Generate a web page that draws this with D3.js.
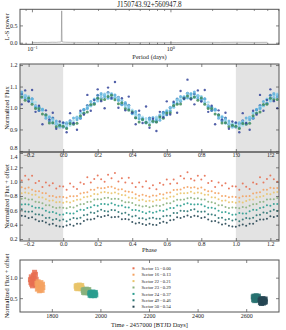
<!DOCTYPE html>
<html><head><meta charset="utf-8">
<script src="https://cdn.jsdelivr.net/npm/d3@7"></script>
<style>html,body{margin:0;padding:0;background:#fff}svg{display:block}text{font-family:"Liberation Serif","Times New Roman",serif;fill:#222}</style>
</head><body><svg id="c" width="286" height="330"></svg>
<script>
const title = "J150743.92+560947.8";
// Lomb-Scargle periodogram
const lsPeriods = [0.1,0.11,0.12,0.13,0.14,0.15,0.155,0.16,0.163,0.164,0.165,0.168,0.175,0.19,0.21,0.24,0.28,0.33,0.4,0.5,0.6,0.75,0.9,1.1,1.4,1.8,2.3,3.0,4.0,5.0];
const lsPower = [0.01,0.008,0.012,0.009,0.015,0.012,0.018,0.02,0.03,0.92,0.03,0.02,0.015,0.012,0.01,0.008,0.011,0.009,0.007,0.01,0.008,0.012,0.009,0.007,0.011,0.013,0.009,0.014,0.01,0.012];
// phase grid
const phases = [0,0.02,0.04,0.06,0.08,0.1,0.12,0.14,0.16,0.18,0.2,0.22,0.24,0.26,0.28,0.3,0.32,0.34,0.36,0.38,0.4,0.42,0.44,0.46,0.48,0.5,0.52,0.54,0.56,0.58,0.6,0.62,0.64,0.66,0.68,0.7,0.72,0.74,0.76,0.78,0.8,0.82,0.84,0.86,0.88,0.9,0.92,0.94,0.96,0.98];
const sectors = ["15","16","22","23","24","49","50"];
const offsets = [0.00,0.13,0.21,0.29,0.37,0.46,0.54];
const flux15 = [.932,.887,.976,.930,.899,.987,.969,1.061,.987,1.037,1.087,1.032,.999,1.095,1.047,1.121,1.001,1.046,.989,1.053,.978,.924,.987,.930,1.007,.908,.950,.893,.982,.957,1.031,.970,1.029,.978,1.079,1.043,1.132,1.040,1.017,1.082,1.030,1.084,.982,1.011,.924,.989,.946,.978,.903,.937];
const flux16 = [.915,.904,.928,.925,.929,.964,.976,.981,1.016,1.018,1.046,1.038,1.040,1.054,1.059,1.039,1.020,1.024,.997,.991,.983,.954,.935,.946,.933,.921,.938,.935,.958,.952,.977,.978,1.012,1.017,1.019,1.046,1.056,1.044,1.051,1.036,1.047,1.018,.998,.998,.972,.967,.930,.931,.913,.920];
const flux22 = [.916,.929,.919,.941,.959,.961,.994,.999,1.009,1.037,1.035,1.058,1.066,1.057,1.050,1.060,1.043,1.023,1.020,.989,.982,.977,.951,.958,.938,.943,.934,.954,.955,.978,.976,.999,1.004,1.033,1.048,1.048,1.051,1.068,1.050,1.058,1.047,1.027,1.027,.994,.990,.966,.943,.947,.924,.925];
const flux23 = [.926,.919,.936,.928,.953,.976,.979,1.005,1.010,1.042,1.043,1.046,1.062,1.066,1.048,1.052,1.048,1.024,1.004,1.003,.991,.963,.959,.945,.951,.933,.946,.958,.952,.968,.989,.989,1.017,1.036,1.037,1.041,1.059,1.067,1.053,1.059,1.042,1.041,1.009,1.002,.988,.960,.961,.936,.923,.928];
const flux24 = [.913,.932,.926,.927,.956,.979,.976,1.004,1.012,1.041,1.033,1.060,1.060,1.051,1.068,1.047,1.035,1.036,1.013,1.010,.973,.973,.964,.945,.930,.949,.937,.950,.968,.961,.981,1.004,1.003,1.038,1.034,1.054,1.069,1.056,1.050,1.055,1.053,1.026,1.007,1.006,.995,.964,.944,.947,.930,.910];
const flux49 = [.931,.908,.932,.953,.945,.955,.993,.998,1.030,1.022,1.047,1.068,1.051,1.045,1.063,1.061,1.037,1.015,1.026,.997,.974,.984,.950,.951,.931,.948,.956,.943,.943,.976,.984,.986,1.024,1.022,1.054,1.049,1.047,1.065,1.074,1.045,1.041,1.043,1.004,1.003,.993,.952,.957,.930,.940,.919];
const flux50 = [.911,.928,.941,.926,.954,.952,.992,1.012,1.013,1.022,1.059,1.047,1.061,1.072,1.044,1.048,1.050,1.017,1.019,1.013,.977,.955,.967,.949,.934,.953,.940,.936,.964,.980,.968,1.002,1.009,1.042,1.032,1.050,1.069,1.046,1.065,1.057,1.034,1.042,1.011,.988,.992,.969,.941,.953,.924,.915];
// time series (BTJD) and raw flux per sector
const time15 = [1712,1714,1715.5,1717,1719,1720.5,1722,1724,1726,1727.5,1729,1731,1732.5,1734,1735.5,1737];
const tflux15 = [0.95,0.88,1.02,0.84,0.97,0.80,0.93,1.06,0.86,0.99,1.13,0.90,1.08,0.82,0.96,0.87];
const time16 = [1739,1740.5,1742,1743.5,1745,1747,1748.5,1750,1752,1753.5,1755,1756.5,1758,1760,1761.5,1763];
const tflux16 = [0.99,0.85,0.93,1.03,0.87,0.95,0.81,0.98,0.90,0.83,1.01,0.88,0.94,0.82,0.97,0.89];
const time22 = [1900,1901.5,1903,1905,1906.5,1908,1910,1911.5,1913,1915,1916.5,1918,1920,1921.5,1923,1925];
const tflux22 = [1.00,0.95,1.02,0.97,0.94,1.01,0.99,0.96,1.03,0.95,0.98,1.01,0.94,0.99,1.02,0.96];
const time23 = [1929,1930.5,1932,1934,1935.5,1937,1939,1940.5,1942,1944,1945.5,1947,1949,1950.5,1952,1954];
const tflux23 = [0.98,0.93,1.00,0.95,0.92,0.99,0.97,0.94,1.01,0.93,0.96,0.99,0.92,0.97,1.00,0.94];
const time24 = [1956,1957.5,1959,1961,1962.5,1964,1966,1967.5,1969,1971,1972.5,1974,1976,1977.5,1979,1981];
const tflux24 = [0.99,0.94,1.01,0.96,0.93,1.00,0.98,0.95,1.02,0.94,0.97,1.00,0.93,0.98,1.01,0.95];
const time49 = [2629,2630.5,2632,2633.5,2635,2636.5,2638,2639.5,2641,2642.5,2644,2645.5,2647,2648.5,2650,2652];
const tflux49 = [0.99,0.92,1.01,0.95,0.90,1.00,0.97,0.93,1.02,0.91,0.96,1.00,0.93,0.98,1.01,0.94];
const time50 = [2657,2658.5,2660,2661.5,2663,2664.5,2666,2667.5,2669,2670.5,2672,2673.5,2675,2676.5,2678,2679];
const tflux50 = [0.99,0.93,1.02,0.96,0.91,1.01,0.98,0.94,1.03,0.92,0.97,1.00,0.94,0.99,1.02,0.95];
const sectorColors = ["#e76f51","#f4a261","#e9c46a","#8ab17d","#2a9d8f","#287271","#264653"];
const foldColors = ["#34449a","#3d8c5c","#b0e0f0","#9ad6ee","#80c8e6","#5aaedb","#2f72b4"];
const foldOrder = [2,6,3,4,5,1,0];
const phaseTicks = [-0.2,0,0.2,0.4,0.6,0.8,1.0,1.2];

const fluxes = [flux15,flux16,flux22,flux23,flux24,flux49,flux50];
const times = [time15,time16,time22,time23,time24,time49,time50];
const tfluxes = [tflux15,tflux16,tflux22,tflux23,tflux24,tflux49,tflux50];

const svg = d3.select("#c");
const L = 20, R = 279;
const FONT = '"Liberation Serif","Times New Roman",serif';
const TICK = 6, LAB = 6.4;
const spineColor = "#555";

function styleAxis(g, labels) {
  g.select(".domain").remove();
  g.attr("font-family", FONT).attr("font-size", TICK).attr("color", "#333");
  g.selectAll(".tick line").attr("stroke-width", 0.6);
  if (!labels) g.selectAll(".tick text").remove();
}
function frame(y0, y1) {
  svg.append("rect").attr("x", L).attr("y", y0).attr("width", R - L).attr("height", y1 - y0)
    .attr("fill", "none").attr("stroke", spineColor).attr("stroke-width", 1);
}
function ylabel(txt, cy) {
  svg.append("text").attr("transform", `translate(8.5,${cy}) rotate(-90)`).attr("text-anchor", "middle")
    .attr("font-size", LAB).text(txt);
}
function clip(id, y0, y1) {
  svg.append("clipPath").attr("id", id).append("rect").attr("x", L).attr("y", y0).attr("width", R - L).attr("height", y1 - y0);
}

// ---------- Panel 1: periodogram ----------
const P1t = 9.3, P1b = 44.3;
const x1 = d3.scaleLog().domain([0.082, 6.08]).range([L, R]);
const y1 = d3.scaleLinear().domain([-0.045, 0.965]).range([P1b, P1t]);
svg.append("text").attr("x", (L + R) / 2).attr("y", 7.4).attr("text-anchor", "middle").attr("font-size", 7.2).text(title);
clip("c1", P1t, P1b);
svg.append("path").datum(lsPeriods.map((p, i) => [p, lsPower[i]]))
  .attr("clip-path", "url(#c1)")
  .attr("d", d3.line().x(d => x1(d[0])).y(d => y1(d[1])))
  .attr("fill", "none").attr("stroke", "#888").attr("stroke-width", 0.6);
const minorLog = [0.09,0.2,0.3,0.4,0.5,0.6,0.7,0.8,0.9,2,3,4,5,6];
svg.append("g").attr("transform", `translate(0,${P1b})`)
  .call(d3.axisBottom(x1).tickValues([0.1, 1]).tickSizeInner(-3).tickSizeOuter(0).tickPadding(2.5))
  .call(g => { styleAxis(g, true); g.selectAll(".tick text").each(function (d) {
      const t = d3.select(this); t.text("10");
      t.append("tspan").attr("dy", "-0.4em").attr("font-size", 4.3).text(d === 1 ? "0" : "\u22121"); }); });
svg.append("g").attr("transform", `translate(0,${P1b})`)
  .call(d3.axisBottom(x1).tickValues(minorLog).tickSizeInner(-1.6).tickSizeOuter(0)).call(g => styleAxis(g, false));
svg.append("g").attr("transform", `translate(0,${P1t})`)
  .call(d3.axisTop(x1).tickValues([0.1, 1]).tickSizeInner(-3).tickSizeOuter(0)).call(g => styleAxis(g, false));
svg.append("g").attr("transform", `translate(0,${P1t})`)
  .call(d3.axisTop(x1).tickValues(minorLog).tickSizeInner(-1.6).tickSizeOuter(0)).call(g => styleAxis(g, false));
svg.append("g").attr("transform", `translate(${L},0)`)
  .call(d3.axisLeft(y1).tickValues([0, 0.5]).tickFormat(d3.format(".1f")).tickSizeInner(-3).tickSizeOuter(0).tickPadding(2.5))
  .call(g => styleAxis(g, true));
svg.append("g").attr("transform", `translate(${R},0)`)
  .call(d3.axisRight(y1).tickValues([0, 0.5]).tickSizeInner(-3).tickSizeOuter(0)).call(g => styleAxis(g, false));
frame(P1t, P1b);
svg.append("text").attr("x", (L + R) / 2).attr("y", 58.5).attr("text-anchor", "middle").attr("font-size", LAB).text("Period (days)");
ylabel("L-S power", (P1t + P1b) / 2);

// ---------- phase panels ----------
const xp = d3.scaleLinear().domain([-0.25, 1.25]).range([L, R]);
function foldPoints(i, off) {
  const pts = [];
  phases.forEach((p, k) => {
    [p - 1, p, p + 1].forEach(q => { if (q >= -0.25 && q <= 1.25) pts.push([q, fluxes[i][k] - off]); });
  });
  return pts;
}
function shade(y0, y1) {
  svg.append("rect").attr("x", xp(-0.25)).attr("y", y0).attr("width", xp(0) - xp(-0.25)).attr("height", y1 - y0).attr("fill", "#e3e3e3");
  svg.append("rect").attr("x", xp(1)).attr("y", y0).attr("width", xp(1.25) - xp(1)).attr("height", y1 - y0).attr("fill", "#e3e3e3");
}
function phaseAxes(y, y0, y1, yt, labelsBottom, nudge) {
  svg.append("g").attr("transform", `translate(0,${y1})`)
    .call(d3.axisBottom(xp).tickValues(phaseTicks).tickFormat(d3.format(".1f")).tickSizeInner(-3).tickSizeOuter(0).tickPadding(1.2))
    .call(g => styleAxis(g, labelsBottom));
  svg.append("g").attr("transform", `translate(0,${y0})`)
    .call(d3.axisTop(xp).tickValues(phaseTicks).tickSizeInner(-3).tickSizeOuter(0)).call(g => styleAxis(g, false));
  svg.append("g").attr("transform", `translate(${L},0)`)
    .call(d3.axisLeft(y).tickValues(yt).tickFormat(d3.format(".1f")).tickSizeInner(-3).tickSizeOuter(0).tickPadding(2.5))
    .call(g => { styleAxis(g, true); if (nudge) g.selectAll(".tick text").attr("dy", d => nudge(d)); });
  svg.append("g").attr("transform", `translate(${R},0)`)
    .call(d3.axisRight(y).tickValues(yt).tickSizeInner(-3).tickSizeOuter(0)).call(g => styleAxis(g, false));
}

// Panel 2
const P2t = 64, P2b = 152;
const y2 = d3.scaleLinear().domain([0.795, 1.205]).range([P2b, P2t]);
shade(P2t, P2b);
clip("c2", P2t, P2b);
const g2 = svg.append("g").attr("clip-path", "url(#c2)");
foldOrder.forEach(i => {
  g2.append("g").selectAll("circle").data(foldPoints(i, 0)).join("circle")
    .attr("cx", d => xp(d[0])).attr("cy", d => y2(d[1])).attr("r", i === 0 ? 1.2 : 1.5)
    .attr("fill", foldColors[i]).attr("fill-opacity", 0.85);
});

// Panel 3
const P3t = 152, P3b = 241;
const y3 = d3.scaleLinear().domain([0.172, 1.414]).range([P3b, P3t]);
shade(P3t, P3b);
clip("c3", P3t, P3b);
const g3 = svg.append("g").attr("clip-path", "url(#c3)");
sectors.forEach((s, i) => {
  g3.append("g").selectAll("circle").data(foldPoints(i, offsets[i])).join("circle")
    .attr("cx", d => xp(d[0])).attr("cy", d => y3(d[1])).attr("r", 1.0)
    .attr("fill", sectorColors[i]).attr("fill-opacity", 0.9);
});
phaseAxes(y3, P3t, P3b, [0.2, 0.4, 0.6, 0.8, 1.0, 1.2, 1.4], true, d => d === 1.4 ? "0.95em" : "0.32em");
frame(P3t, P3b);
phaseAxes(y2, P2t, P2b, [0.8, 0.9, 1.0, 1.1, 1.2], true, d => d === 0.8 ? "-0.25em" : "0.32em");
frame(P2t, P2b);
ylabel("Normalized Flux", (P2t + P2b) / 2);
ylabel("Normalized Flux + offset", (P3t + P3b) / 2);
svg.append("text").attr("x", (L + R) / 2).attr("y", 251.5).attr("text-anchor", "middle").attr("font-size", LAB).text("Phase");

// ---------- Panel 4: time series ----------
const P4t = 260, P4b = 312;
const x4 = d3.scaleLinear().domain([1669, 2735]).range([L, R]);
const y4 = d3.scaleLinear().domain([0.163, 1.43]).range([P4b, P4t]);
const ms = 5;
sectors.forEach((s, i) => {
  svg.append("g").selectAll("rect").data(times[i].map((t, k) => [t, tfluxes[i][k] - offsets[i]])).join("rect")
    .attr("x", d => x4(d[0]) - ms / 2).attr("y", d => y4(d[1]) - ms / 2).attr("width", ms).attr("height", ms)
    .attr("fill", sectorColors[i]).attr("fill-opacity", 0.85);
});
svg.append("g").attr("transform", `translate(0,${P4b})`)
  .call(d3.axisBottom(x4).tickValues([1800, 2000, 2200, 2400, 2600]).tickFormat(d3.format("d")).tickSizeInner(-3).tickSizeOuter(0).tickPadding(1.5))
  .call(g => styleAxis(g, true));
svg.append("g").attr("transform", `translate(0,${P4t})`)
  .call(d3.axisTop(x4).tickValues([1800, 2000, 2200, 2400, 2600]).tickSizeInner(-3).tickSizeOuter(0)).call(g => styleAxis(g, false));
svg.append("g").attr("transform", `translate(${L},0)`)
  .call(d3.axisLeft(y4).tickValues([0.5, 1.0]).tickFormat(d3.format(".1f")).tickSizeInner(-3).tickSizeOuter(0).tickPadding(2.5))
  .call(g => styleAxis(g, true));
svg.append("g").attr("transform", `translate(${R},0)`)
  .call(d3.axisRight(y4).tickValues([0.5, 1.0]).tickSizeInner(-3).tickSizeOuter(0)).call(g => styleAxis(g, false));
frame(P4t, P4b);
ylabel("Normalized Flux + offset", (P4t + P4b) / 2);
svg.append("text").attr("x", (L + R) / 2).attr("y", 326.5).attr("text-anchor", "middle").attr("font-size", LAB).text("Time - 2457000 [BTJD Days]");

// legend
const lg = svg.append("g").attr("font-size", 4.6);
sectors.forEach((s, i) => {
  const cy = 268.3 + i * 6.4;
  lg.append("rect").attr("x", 132.5).attr("y", cy - 1).attr("width", 2).attr("height", 2).attr("fill", sectorColors[i]);
  lg.append("text").attr("x", 141.5).attr("y", cy + 1.6).text(`Sector ${s} - ${offsets[i].toFixed(2)}`);
});
</script></body></html>
